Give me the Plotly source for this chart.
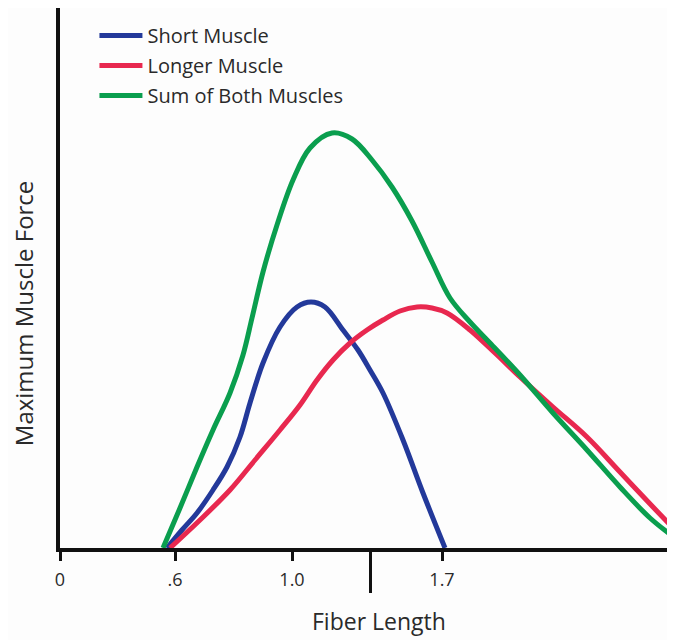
import plotly.graph_objects as go

# schematic axes: x = distance along the fibre-length axis, y = force (arbitrary units)
short_x = [107, 122, 137, 153, 167, 180, 190, 203, 220, 237, 251, 265, 283, 298, 310, 323, 343, 363, 385]
short_y = [0, 18, 35, 58, 81, 111, 145, 185, 221, 241, 246, 241, 218, 198, 178, 155, 108, 55, 0]

long_x = [110, 140, 170, 195, 220, 240, 257, 273, 290, 307, 323, 340, 357, 372, 387, 410, 435, 460, 493, 527, 560, 593, 615]
long_y = [0, 28, 58, 88, 118, 143, 168, 188, 205, 218, 228, 237, 241, 240, 235, 218, 195, 171, 141, 111, 76, 41, 18]

sum_x = [103, 120, 137, 153, 170, 183, 192, 203, 217, 233, 250, 272, 292, 312, 332, 352, 372, 390, 410, 430, 460, 493, 527, 560, 590, 615]
sum_y = [0, 40, 81, 118, 155, 193, 230, 276, 323, 368, 400, 415, 409, 388, 361, 327, 286, 250, 226, 205, 173, 135, 98, 61, 30, 10]

tick_pos = [0, 115, 232, 382]
tick_text = ["0", ".6", "1.0", "1.7"]
mid_tick = [310]

FONT = "Open Sans"
TXT = "#2a2a2a"

fig = go.Figure()
fig.add_trace(go.Scatter(x=short_x, y=short_y, mode="lines", name="Short Muscle", legendgroup="a",
                         line=dict(color="#23399a", width=5, shape="spline", smoothing=1)))
fig.add_trace(go.Scatter(x=long_x, y=long_y, mode="lines", name="Longer Muscle", legendgroup="b",
                         line=dict(color="#e8284f", width=5, shape="spline", smoothing=1)))
fig.add_trace(go.Scatter(x=sum_x, y=sum_y, mode="lines", name="Sum of Both Muscles", legendgroup="c",
                         line=dict(color="#0a9e4e", width=5, shape="spline", smoothing=1)))
# invisible trace carrying the second x axis (long middle tick)
fig.add_trace(go.Scatter(x=mid_tick, y=[0], mode="lines", xaxis="x2", showlegend=False,
                         hoverinfo="skip", line=dict(width=0)))

# the page body keeps its 8px margin, so the figure is 8px smaller than the window
fig.update_layout(
    width=667, height=632,
    margin=dict(l=52, r=0, t=0, b=92),
    paper_bgcolor="#fdfdfd", plot_bgcolor="#fdfdfd",
    font=dict(family=FONT, color=TXT),
    xaxis=dict(range=[0, 615], showgrid=False, zeroline=False,
               showline=True, linecolor="#111", linewidth=4,
               tickvals=tick_pos, ticktext=tick_text, ticks="outside",
               ticklen=9, tickwidth=3, tickcolor="#111",
               tickfont=dict(size=18, color=TXT), ticklabelstandoff=3),
    xaxis2=dict(range=[0, 615], overlaying="x", anchor="y", side="bottom",
                showgrid=False, zeroline=False, showline=False,
                tickvals=mid_tick, ticks="outside", ticklen=44, tickwidth=3,
                tickcolor="#111", showticklabels=False),
    yaxis=dict(range=[0, 540], showgrid=False, zeroline=False,
               showline=True, linecolor="#111", linewidth=4,
               showticklabels=False, ticks=""),
    legend=dict(x=0.056, y=0.985, xanchor="left", yanchor="top",
                bgcolor="rgba(0,0,0,0)", itemwidth=43,
                font=dict(size=20, color=TXT, family=FONT),
                tracegroupgap=1),
    annotations=[
        dict(text="Fiber Length", xref="paper", yref="paper", x=0.519, y=-0.135,
             xanchor="center", yanchor="middle", showarrow=False,
             font=dict(size=23, color=TXT)),
        dict(text="Maximum Muscle Force", xref="paper", yref="paper", x=-0.060, y=0.435,
             xanchor="center", yanchor="middle", textangle=-90, showarrow=False,
             font=dict(size=24, color=TXT)),
    ],
)

fig.write_html("out.html")
